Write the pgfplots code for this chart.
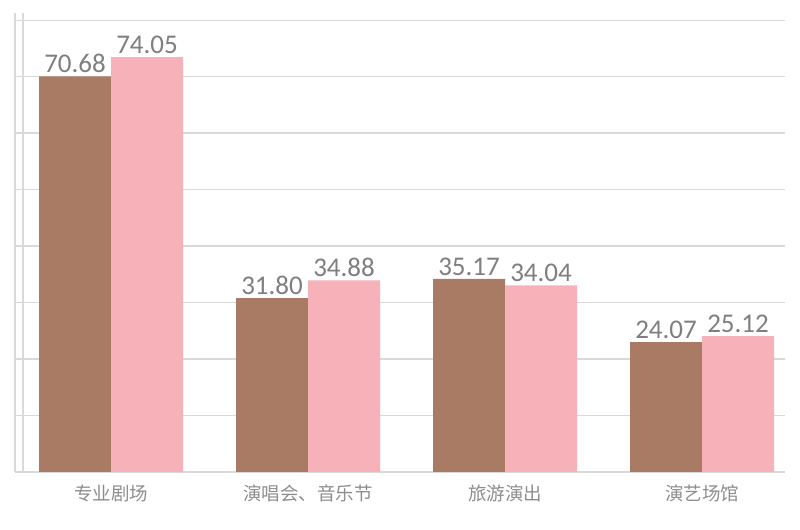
\documentclass[border=0pt]{standalone}
\usepackage{fontspec}
\setmainfont{Carlito}
\newfontfamily\cjk{Noto Sans CJK SC}
\usepackage{pgfplots}
\pgfplotsset{compat=1.18}
\definecolor{clbrown}{HTML}{A97B65}
\definecolor{clpink}{HTML}{F7B1B8}
\definecolor{clgrid}{HTML}{D9D9D9}
\definecolor{cltext}{HTML}{7F7F7F}
\definecolor{clcat}{HTML}{8E8E8E}

\begin{document}
\begin{tikzpicture}
\useasboundingbox (0,0) rectangle (800bp,530bp);
\fill[white] (0,0) rectangle (800bp,530bp);
\begin{axis}[
	name=ax,
	at={(23bp,58bp)}, anchor=south west,
	scale only axis,
	width=762bp, height=459bp,
	ybar=0pt,
	bar width=72bp,
	xmin=-0.447, xmax=3.421,
	ymin=1.28, ymax=81.81,
	xtick=data,
	xticklabels={专业剧场, 演唱会、音乐节, 旅游演出, 演艺场馆},
	x tick label style={font=\cjk\fontsize{18.5bp}{19bp}\selectfont, text=clcat, yshift=-1bp},
	major x tick style={draw=none},
	ytick={1.28,11.19,21.10,31.01,40.92,50.83,60.74,70.65,80.56},
	yticklabels={},
	ymajorgrids,
	grid style={clgrid, line width=1.2bp},
	tick align=outside,
	major tick length=8bp,
	major y tick style={clgrid, line width=1.2bp},
	axis x line*=bottom,
	axis y line*=left,
	axis line style={draw=clgrid, line width=1.2bp, -},
	nodes near coords,
	every node near coord/.append style={font=\fontsize{27bp}{27bp}\selectfont, text=cltext},
	/pgf/number format/.cd, fixed, fixed zerofill, precision=2, assume math mode=true,
    ]

% series 1
\addplot[draw=none, fill=clbrown] coordinates{(0,70.68) (1,31.80) (2,35.17) (3,24.07)};

% series 2
\addplot[draw=none, fill=clpink] coordinates{(0,74.05) (1,34.88) (2,34.04) (3,25.12)};

\end{axis}
\draw[clgrid, line width=1.2bp] ([xshift=-8bp]ax.south west) -- ([xshift=-8bp]ax.north west);
\end{tikzpicture}
\end{document}
